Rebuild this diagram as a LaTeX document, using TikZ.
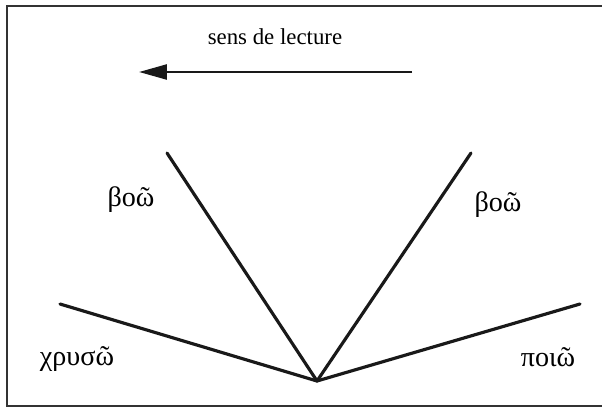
\documentclass[tikz,border=0pt]{standalone}
\usepackage{fontspec}
\setmainfont{Liberation Serif}
\usetikzlibrary{arrows.meta}

\begin{document}
\begin{tikzpicture}[
  x=0.02cm, y=-0.02cm,
  branch/.style={black!90, line width=1.8pt, line cap=round},
  word/.style={font=\fontsize{16}{18}\selectfont, inner sep=0pt},
]
% Picture area in pixel units (602 x 409), y pointing down.
\useasboundingbox (0,0) rectangle (602,409);
% Frame, open on the right
\draw[black!80, line width=0.6pt] (612,6) -- (7,6) -- (7,406) -- (612,406);

% Reading direction
\node[font=\fontsize{13}{15}\selectfont] (sens) at (275,37) {sens de lecture};
\coordinate (flechedeb) at (412,72);
\coordinate (flechefin) at (139,72);
\draw[black!90, line width=1.4pt, -{Triangle[length=0.56cm, width=0.3cm]}] (flechedeb) -- (flechefin);

% Fan of branches from a common root
\coordinate (racine) at (317,381);
\coordinate (hautg) at (167,153);
\coordinate (hautd) at (471,153);
\coordinate (basg) at (60,304);
\coordinate (basd) at (580,304);
\foreach \bout in {hautg, hautd, basg, basd}
  \draw[branch] (racine) -- (\bout);

% Labels
\node[word] (boog) at (131,200) {βοῶ};
\node[word] (bood) at (498,205) {βοῶ};
\node[word] (chryso) at (77,359) {χρυσῶ};
\node[word] (poio) at (548,357) {ποιῶ};
\end{tikzpicture}
\end{document}
